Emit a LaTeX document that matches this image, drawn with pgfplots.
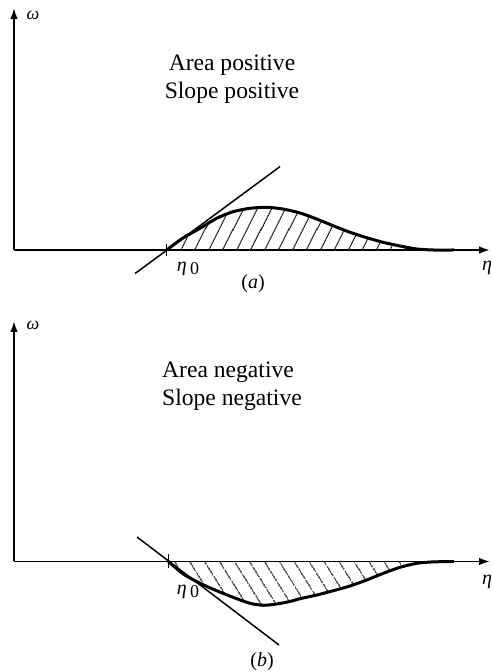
\documentclass[border=0pt]{standalone}
\usepackage{fontspec}
\setmainfont{Liberation Serif}
\usepackage{pgfplots}
\pgfplotsset{compat=1.18}
\usetikzlibrary{arrows.meta,patterns.meta}

% Shared look of the two sketches: bare axes with arrow heads, no ticks
\pgfplotsset{
  sketch/.style={
    scale only axis,
    axis lines=left,
    ticks=none,
    clip=false,
    xmin=0, xmax=476,
    ymin=0,
    width=238pt,
    axis line style={line width=0.95pt,-{Latex[length=5.5pt,width=3.8pt]}},
    anchor=origin,
  },
  curve/.style={line width=1.5pt, black, line join=round},
  tangent/.style={line width=0.75pt, black},
}

% Disturbance profiles omega(eta), starting at eta_0
\pgfplotstableread{
x      y
152.7  0
169    12
186    21.7
202.7  31.7
219    38.3
236    41.7
252.7  42.7
269    41
286    37
302.7  31
319    24.3
336    17.7
352.7  12.3
369    7.7
386    4
402.7  1
419    0
440    0
}\profileA

\pgfplotstableread{
x      y
154.3  0
169.3  -12.5
186    -21.8
202.7  -29.2
219    -35.8
236    -41.8
249.3  -43.8
262.7  -42.5
276    -40
286    -37.2
302.7  -33.5
319.3  -29.2
336    -24.5
352.7  -18.5
369.3  -11.8
386    -5.8
402.7  -1.8
419    -0.4
440    0
}\profileB

\begin{document}
\begin{tikzpicture}
\useasboundingbox (0,0) rectangle (245.5pt,336pt);

% (a) positive area, positive slope
\begin{axis}[sketch, at={(7pt,211pt)}, ymax=242, height=121pt]
  \addplot[draw=none, pattern={Lines[angle=63,distance=6.4pt,line width=0.6pt]}]
    table[x=x,y=y] {\profileA} \closedcycle;
  \addplot[curve, smooth, tension=0.4] table[x=x,y=y] {\profileA};
  \addplot[tangent] coordinates {(121,-23.6) (266,83.4)};
  \addplot[line width=0.75pt] coordinates {(152.7,-6) (152.7,6)};
  \node at (axis cs:19,235) {\small\textit{ω}};
  \node at (axis cs:473,-18) {\textit{η}};
  \node at (axis cs:174,-19) {\textit{η}\,\raisebox{-0.3ex}{\small 0}};
  \node at (axis cs:239,-34) {(\textit{a})};
  \node at (axis cs:218,185) {\fontsize{11.8}{13}\selectfont Area positive};
  \node at (axis cs:218,157) {\fontsize{11.8}{13}\selectfont Slope positive};
\end{axis}

% (b) negative area, negative slope
\begin{axis}[sketch, at={(7pt,55.25pt)}, ymax=240.5, height=120.25pt]
  \addplot[draw=none, pattern={Lines[angle=-58,distance=6.5pt,line width=0.6pt]}]
    table[x=x,y=y] {\profileB} \closedcycle;
  \addplot[curve, smooth, tension=0.4] table[x=x,y=y] {\profileB};
  \addplot[tangent] coordinates {(123,24.5) (265,-83.5)};
  \addplot[line width=0.75pt] coordinates {(154.3,-7) (154.3,7)};
  \node at (axis cs:19,236.5) {\small\textit{ω}};
  \node at (axis cs:473,-20.5) {\textit{η}};
  \node at (axis cs:174,-30.5) {\textit{η}\,\raisebox{-0.3ex}{\small 0}};
  \node at (axis cs:248,-100.5) {(\textit{b})};
  \node at (axis cs:214,189.5) {\fontsize{11.8}{13}\selectfont Area negative};
  \node at (axis cs:218,161.5) {\fontsize{11.8}{13}\selectfont Slope negative};
\end{axis}
\end{tikzpicture}
\end{document}
